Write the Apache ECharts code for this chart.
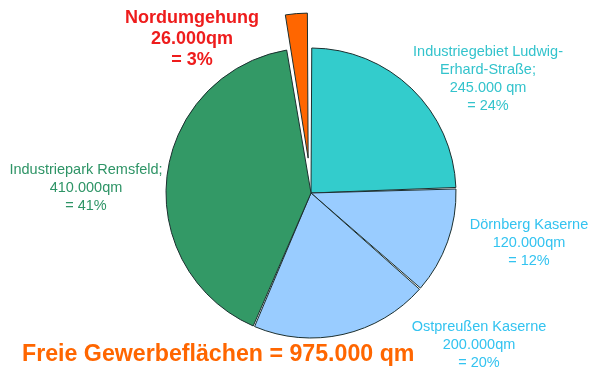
<!DOCTYPE html>
<html><head><meta charset="utf-8">
<script src="https://cdn.jsdelivr.net/npm/echarts@6/dist/echarts.min.js"></script>
<style>html,body{margin:0;padding:0;background:#fff}#c{width:600px;height:374px}</style>
</head><body><div id="c"></div>
<script>
const names = ['Industriegebiet Ludwig-Erhard-Straße', 'Dörnberg Kaserne', 'Ostpreußen Kaserne', 'Industriepark Remsfeld', 'Nordumgehung'];
const values = [245000, 120000, 200000, 410000, 26000];
const labelTexts = [
  'Industriegebiet Ludwig-\nErhard-Straße;\n245.000 qm\n= 24%',
  'Dörnberg Kaserne\n120.000qm\n= 12%',
  'Ostpreußen Kaserne\n200.000qm\n= 20%',
  'Industriepark Remsfeld;\n410.000qm\n= 41%',
  'Nordumgehung\n26.000qm\n= 3%'
];
const titleText = 'Freie Gewerbeflächen = 975.000 qm';

const sliceColors = ['#33CCCC', '#99CCFF', '#99CCFF', '#339966', '#FF6600'];
const textColors = ['#33C3CC', '#33C3F0', '#33C3F0', '#2E9466', '#EE1C1C'];
const EXPLODED = 4;
const labelPos = [[488, 79], [529, 243], [479, 345], [86, 188], [192, 39]];

const CX = 311, CY = 193, R = 145, OFFSET = 35;
// direction of the exploded slice's bisector
const total = values.reduce((a, b) => a + b, 0);
const before = values.slice(0, EXPLODED).reduce((a, b) => a + b, 0);
const midFrac = (before + values[EXPLODED] / 2) / total;
const ang = Math.PI / 2 - midFrac * 2 * Math.PI;
const ecx = CX + OFFSET * Math.cos(ang), ecy = CY - OFFSET * Math.sin(ang);

const base = {
  type: 'pie', radius: R, startAngle: 90, clockwise: true, padAngle: 0.6,
  labelLine: {show: false}, emphasis: {disabled: true}
};

const chart = echarts.init(document.getElementById('c'), null, {renderer: 'canvas'});
chart.setOption({
  animation: false,
  title: {
    text: titleText, left: 17, top: 338,
    textStyle: {fontFamily: 'Liberation Sans, Arial', fontSize: 23.2, fontWeight: 'bold', color: '#FF6600'}
  },
  series: [Object.assign({}, base, {
    center: [CX, CY],
    data: names.map((n, i) => ({
      name: n, value: values[i],
      itemStyle: i === EXPLODED
        ? {color: 'rgba(0,0,0,0)', borderWidth: 0}
        : {color: sliceColors[i], borderColor: '#1b2f2f', borderWidth: 1},
      label: {
        show: true,
        formatter: labelTexts[i],
        color: textColors[i],
        fontFamily: 'Liberation Sans, Arial',
        fontSize: i === EXPLODED ? 18 : 14.5,
        fontWeight: i === EXPLODED ? 'bold' : 'normal',
        lineHeight: i === EXPLODED ? 21 : 17.7,
        align: 'center',
        overflow: 'none',
        width: 300
      }
    })),
    labelLayout: function (p) {
      const pos = labelPos[p.dataIndex];
      return {x: pos[0], y: pos[1], align: 'center', verticalAlign: 'middle'};
    }
  }), Object.assign({}, base, {
    center: [ecx, ecy],
    silent: true,
    label: {show: false},
    data: names.map((n, i) => ({
      name: n, value: values[i],
      itemStyle: i === EXPLODED
        ? {color: sliceColors[i], borderColor: '#1b2f2f', borderWidth: 1}
        : {color: 'rgba(0,0,0,0)', borderWidth: 0}
    }))
  })]
});
</script></body></html>
